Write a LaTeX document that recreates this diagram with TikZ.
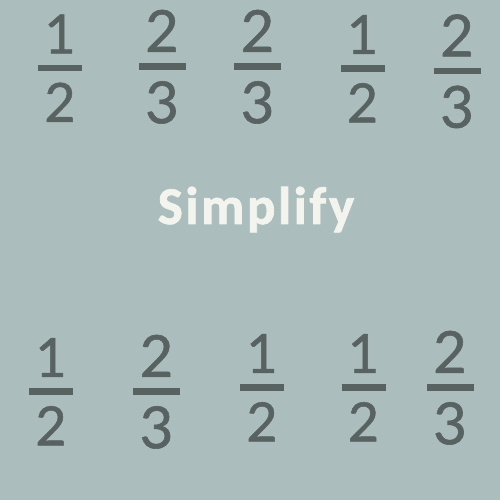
\documentclass[tikz,border=0pt]{standalone}
\usepackage{fontspec}
\usetikzlibrary{positioning}
\newfontfamily\digitfont[FakeBold=1]{Lato}
\newfontfamily\titlefont[LetterSpace=5,FakeBold=1.5]{Carlito Bold}
\definecolor{bg}{HTML}{ABBDBD}
\definecolor{ink}{HTML}{586261}
\definecolor{chalk}{HTML}{F4F4EE}

\begin{document}
\begin{tikzpicture}[x=1pt,y=1pt,node distance=11pt,
    digit/.style={inner sep=0pt,text=ink,font=\digitfont\fontsize{54}{54}\selectfont},
    bigdigit/.style={inner sep=0pt,text=ink,font=\digitfont\fontsize{58}{58}\selectfont},
    bar/.style={fill=ink,inner sep=0pt,minimum height=6.5pt,minimum width=44pt},
    bigbar/.style={bar,minimum width=47pt}]
    \fill[bg] (0,0) rectangle (500,500);
    % top row
    \node[bar]    (b1) at (60,432)     {};
    \node[digit]  (n1) [above=of b1]   {1};
    \node[digit]  (d1) [below=of b1]   {2};
    \node[bigbar] (b2) at (162,433.5)  {};
    \node[bigdigit] (n2) [above=of b2] {2};
    \node[bigdigit] (d2) [below=of b2] {3};
    \node[bigbar] (b3) at (257.5,433.5) {};
    \node[bigdigit] (n3) [above=of b3] {2};
    \node[bigdigit] (d3) [below=of b3] {3};
    \node[bar]    (b4) at (362.5,431.5) {};
    \node[digit]  (n4) [above=of b4]   {1};
    \node[digit]  (d4) [below=of b4]   {2};
    \node[bigbar] (b5) at (457,429)    {};
    \node[bigdigit] (n5) [above=of b5] {2};
    \node[bigdigit] (d5) [below=of b5] {3};
    % title
    \node[text=chalk,font=\titlefont\fontsize{53}{53}\selectfont,anchor=base] (title) at (256,276) {Simplify};
    % bottom row
    \node[bar]    (b6) at (51,108.5)   {};
    \node[digit]  (n6) [above=of b6]   {1};
    \node[digit]  (d6) [below=of b6]   {2};
    \node[bigbar] (b7) at (156.5,108.5) {};
    \node[bigdigit] (n7) [above=of b7] {2};
    \node[bigdigit] (d7) [below=of b7] {3};
    \node[bar]    (b8) at (262,112.5)  {};
    \node[digit]  (n8) [above=of b8]   {1};
    \node[digit]  (d8) [below=of b8]   {2};
    \node[bar]    (b9) at (363.5,112.5) {};
    \node[digit]  (n9) [above=of b9]   {1};
    \node[digit]  (d9) [below=of b9]   {2};
    \node[bigbar] (b10) at (450,112.5) {};
    \node[bigdigit] (n10) [above=of b10] {2};
    \node[bigdigit] (d10) [below=of b10] {3};
    \useasboundingbox (0,0) rectangle (500,500);
\end{tikzpicture}
\end{document}
